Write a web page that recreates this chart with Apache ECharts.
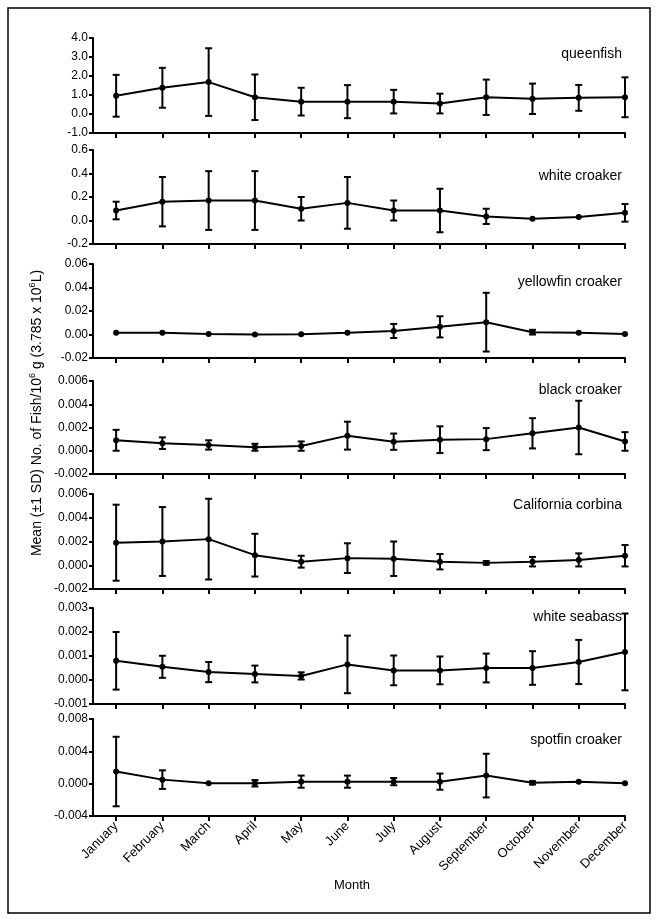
<!DOCTYPE html>
<html>
<head>
<meta charset="utf-8">
<script src="https://cdn.jsdelivr.net/npm/echarts@6/dist/echarts.min.js"></script>
<style>
html, body { margin: 0; padding: 0; background: #fff; }
#chart { width: 657px; height: 920px; }
</style>
</head>
<body>
<div id="chart"></div>
<script>
var months = ['January', 'February', 'March', 'April', 'May', 'June', 'July', 'August', 'September', 'October', 'November', 'December']

var queenfishMean = [0.96, 1.38, 1.68, 0.88, 0.65, 0.65, 0.65, 0.55, 0.88, 0.80, 0.85, 0.88]
var queenfishSd = [1.10, 1.05, 1.78, 1.20, 0.73, 0.87, 0.62, 0.52, 0.93, 0.80, 0.68, 1.05]

var whiteCroakerMean = [0.085, 0.16, 0.17, 0.17, 0.10, 0.15, 0.085, 0.085, 0.035, 0.015, 0.03, 0.065]
var whiteCroakerSd = [0.075, 0.21, 0.25, 0.25, 0.10, 0.22, 0.085, 0.185, 0.065, 0.005, 0.006, 0.075]

var yellowfinMean = [0.0015, 0.0015, 0.0005, 0.0, 0.0003, 0.0015, 0.003, 0.0065, 0.0105, 0.002, 0.0015, 0.0005]
var yellowfinSd = [0.0008, 0.0008, 0.0005, 0.0002, 0.0005, 0.0008, 0.006, 0.009, 0.025, 0.002, 0.0008, 0.0005]

var blackCroakerMean = [0.0009, 0.00065, 0.0005, 0.0003, 0.0004, 0.0013, 0.00078, 0.00095, 0.001, 0.0015, 0.002, 0.0008]
var blackCroakerSd = [0.0009, 0.0005, 0.0004, 0.0003, 0.0004, 0.0012, 0.0007, 0.00115, 0.00095, 0.0013, 0.0023, 0.0008]

var corbinaMean = [0.0019, 0.002, 0.0022, 0.00085, 0.0003, 0.0006, 0.00055, 0.0003, 0.0002, 0.0003, 0.00045, 0.0008]
var corbinaSd = [0.0032, 0.0029, 0.0034, 0.0018, 0.0005, 0.00125, 0.00145, 0.00065, 0.00015, 0.0004, 0.00055, 0.0009]

var seabassMean = [0.0008, 0.00055, 0.00033, 0.00025, 0.00017, 0.00065, 0.0004, 0.0004, 0.0005, 0.0005, 0.00075, 0.00117]
var seabassSd = [0.0012, 0.00046, 0.00042, 0.00035, 0.00015, 0.0012, 0.00062, 0.00058, 0.0006, 0.0007, 0.00092, 0.0016]

var spotfinMean = [0.0015, 0.0005, 0.00005, 0.00005, 0.00025, 0.00025, 0.00025, 0.00025, 0.001, 0.0001, 0.00025, 0.00005]
var spotfinSd = [0.0043, 0.00115, 0, 0.0004, 0.00075, 0.00075, 0.00045, 0.001, 0.0027, 0.0002, 0, 0]

// y axis ranges: [min, max, step, decimals]
var queenfishAxis = [-1, 4, 1, 1]
var whiteCroakerAxis = [-0.2, 0.6, 0.2, 1]
var yellowfinAxis = [-0.02, 0.06, 0.02, 2]
var blackCroakerAxis = [-0.002, 0.006, 0.002, 3]
var corbinaAxis = [-0.002, 0.006, 0.002, 3]
var seabassAxis = [-0.001, 0.003, 0.001, 3]
var spotfinAxis = [-0.004, 0.008, 0.004, 3]

var panels = [
  { name: 'queenfish', mean: queenfishMean, sd: queenfishSd, axis: queenfishAxis, top: 38, bottom: 133, labelY: 54 },
  { name: 'white croaker', mean: whiteCroakerMean, sd: whiteCroakerSd, axis: whiteCroakerAxis, top: 150, bottom: 244, labelY: 176 },
  { name: 'yellowfin croaker', mean: yellowfinMean, sd: yellowfinSd, axis: yellowfinAxis, top: 264, bottom: 358, labelY: 282 },
  { name: 'black croaker', mean: blackCroakerMean, sd: blackCroakerSd, axis: blackCroakerAxis, top: 381, bottom: 474, labelY: 390 },
  { name: 'California corbina', mean: corbinaMean, sd: corbinaSd, axis: corbinaAxis, top: 494, bottom: 589, labelY: 505 },
  { name: 'white seabass', mean: seabassMean, sd: seabassSd, axis: seabassAxis, top: 608, bottom: 704, labelY: 617 },
  { name: 'spotfin croaker', mean: spotfinMean, sd: spotfinSd, axis: spotfinAxis, top: 719, bottom: 816, labelY: 740 }
]

var FONT = 'Liberation Sans, Arial, sans-serif'
var monthIdx = months.map(function (m, i) { return i })

// error bar: vertical line with small caps
function renderErr(params, api) {
  var x = api.value(0)
  var lo = api.coord([x, api.value(1)])
  var hi = api.coord([x, api.value(2)])
  if (Math.abs(hi[1] - lo[1]) < 2) {
    return { type: 'group', children: [] }
  }
  var w = 3.5
  var st = { stroke: '#000', lineWidth: 2 }
  return {
    type: 'group',
    children: [
      { type: 'line', shape: { x1: lo[0], y1: lo[1], x2: hi[0], y2: hi[1] }, style: st },
      { type: 'line', shape: { x1: lo[0] - w, y1: lo[1], x2: lo[0] + w, y2: lo[1] }, style: st },
      { type: 'line', shape: { x1: hi[0] - w, y1: hi[1], x2: hi[0] + w, y2: hi[1] }, style: st }
    ]
  }
}

var grids = [], xAxes = [], yAxes = [], series = [], graphics = []

panels.forEach(function (p, k) {
  var last = k === panels.length - 1
  grids.push({ left: 93, width: 532, top: p.top, height: p.bottom - p.top })
  xAxes.push({
    type: 'value',
    gridIndex: k,
    min: -0.5,
    max: 11,
    axisLine: { show: true, onZero: false, lineStyle: { color: '#000', width: 2 } },
    axisTick: { show: true, customValues: monthIdx, length: 5, lineStyle: { color: '#000', width: 2 } },
    axisLabel: {
      show: last,
      customValues: monthIdx,
      formatter: function (v) { return months[Math.round(v)] },
      rotate: 45,
      fontSize: 13,
      fontFamily: FONT,
      color: '#000',
      margin: 8
    },
    splitLine: { show: false }
  })
  yAxes.push({
    type: 'value',
    gridIndex: k,
    min: p.axis[0],
    max: p.axis[1],
    interval: p.axis[2],
    axisLine: { show: true, onZero: false, lineStyle: { color: '#000', width: 2 } },
    axisTick: { show: true, length: 4, lineStyle: { color: '#000', width: 2 } },
    axisLabel: {
      fontSize: 12,
      fontFamily: FONT,
      color: '#000',
      margin: 5,
      formatter: function (v) {
        if (Math.abs(v) < 1e-12) v = 0
        return v.toFixed(p.axis[3])
      }
    },
    splitLine: { show: false }
  })
  series.push({
    type: 'custom',
    xAxisIndex: k,
    yAxisIndex: k,
    renderItem: renderErr,
    encode: { x: 0, y: [1, 2] },
    data: p.mean.map(function (m, i) { return [i, m - p.sd[i], m + p.sd[i]] }),
    z: 3
  })
  series.push({
    type: 'line',
    xAxisIndex: k,
    yAxisIndex: k,
    data: p.mean.map(function (m, i) { return [i, m] }),
    symbol: 'circle',
    symbolSize: 6,
    lineStyle: { color: '#000', width: 2 },
    itemStyle: { color: '#000' },
    z: 4
  })
  graphics.push({
    type: 'text',
    x: 622,
    y: p.labelY,
    style: { text: p.name, fill: '#000', font: '14px ' + FONT, textAlign: 'right', textVerticalAlign: 'middle' }
  })
})

graphics.push({
  type: 'text',
  x: 352,
  y: 885,
  style: { text: 'Month', fill: '#000', font: '13px ' + FONT, textAlign: 'center', textVerticalAlign: 'middle' }
})
graphics.push({
  type: 'text',
  x: 37,
  y: 413,
  rotation: Math.PI / 2,
  style: {
    text: 'Mean (±1 SD) No. of Fish/10{sup|6} g (3.785 x 10{sup|6}L)',
    fill: '#000',
    fontSize: 14,
    fontFamily: FONT,
    align: 'center',
    verticalAlign: 'middle',
    rich: {
      sup: { fontSize: 9, fontFamily: FONT, fill: '#000', padding: [0, 0, 8, 0] }
    }
  }
})
graphics.push({
  type: 'rect',
  shape: { x: 8, y: 8, width: 642, height: 905 },
  style: { fill: 'none', stroke: '#000', lineWidth: 1.5 }
})

var chart = echarts.init(document.getElementById('chart'))
chart.setOption({
  animation: false,
  grid: grids,
  xAxis: xAxes,
  yAxis: yAxes,
  series: series,
  graphic: graphics
})
</script>
</body>
</html>
